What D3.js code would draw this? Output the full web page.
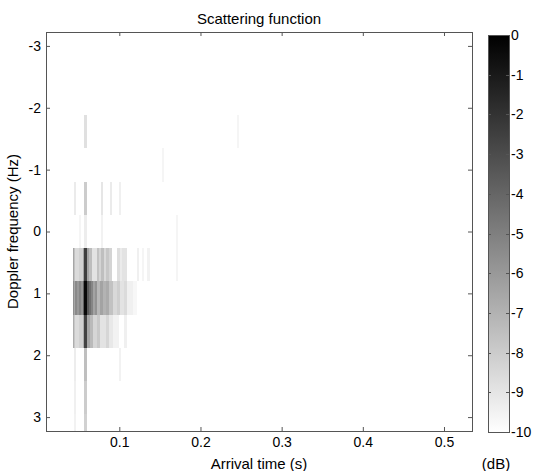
<!DOCTYPE html>
<html>
<head>
<meta charset="utf-8">
<script src="https://cdn.jsdelivr.net/npm/d3@7"></script>
<style>
  body { margin: 0; background: #fff; }
  text { font-family: "Liberation Sans", Arial, Helvetica, sans-serif; fill: #000; }
</style>
</head>
<body>
<div id="chart"></div>
<script>
// axis ranges and ticks
var timeLimits = [0.0097, 0.5345];
var dopplerLimits = [-3.225, 3.225];
var xTicks = [0.1, 0.2, 0.3, 0.4, 0.5];
var yTicks = [-3, -2, -1, 0, 1, 2, 3];
var levelTicks = [0, -1, -2, -3, -4, -5, -6, -7, -8, -9, -10];
var levelRange = [-10, 0];

// doppler bin centres (Hz)
var dopplerBins = [-3.225, -2.6875, -2.15, -1.6125, -1.075, -0.5375, 0,
                   0.5375, 1.075, 1.6125, 2.15, 2.6875, 3.225];
var binHeight = 0.5375;

// visible cells: [doppler Hz, start s, end s, level dB], the rest is below -10 dB
var cells = [
  // 1.075 Hz
  [1.075, 0.0430, 0.0442, -5.6], [1.075, 0.0442, 0.0454, -6.6], [1.075, 0.0454, 0.0479, -5.4],
  [1.075, 0.0479, 0.0504, -6.0], [1.075, 0.0504, 0.0528, -5.3], [1.075, 0.0528, 0.0553, -5.9],
  [1.075, 0.0553, 0.0571, -3.8], [1.075, 0.0571, 0.0602, -0.3], [1.075, 0.0602, 0.0627, -3.4],
  [1.075, 0.0627, 0.0651, -4.4], [1.075, 0.0651, 0.0676, -5.2], [1.075, 0.0676, 0.0700, -6.4],
  [1.075, 0.0700, 0.0725, -5.8], [1.075, 0.0725, 0.0762, -7.2], [1.075, 0.0762, 0.0799, -6.4],
  [1.075, 0.0799, 0.0836, -7.0], [1.075, 0.0836, 0.0873, -6.7], [1.075, 0.0873, 0.0922, -7.6],
  [1.075, 0.0922, 0.0971, -8.5], [1.075, 0.0971, 0.1009, -8.1], [1.075, 0.1009, 0.1058, -8.9],
  [1.075, 0.1058, 0.1095, -8.6], [1.075, 0.1095, 0.1169, -9.4], [1.075, 0.1169, 0.1218, -9.7],
  // 0.5375 Hz
  [0.5375, 0.0430, 0.0442, -6.5], [0.5375, 0.0442, 0.0460, -7.6], [0.5375, 0.0460, 0.0504, -8.6],
  [0.5375, 0.0504, 0.0553, -8.2], [0.5375, 0.0553, 0.0571, -6.4], [0.5375, 0.0571, 0.0602, -2.4],
  [0.5375, 0.0602, 0.0627, -6.4], [0.5375, 0.0627, 0.0664, -7.4], [0.5375, 0.0664, 0.0725, -8.9],
  [0.5375, 0.0725, 0.0750, -7.6], [0.5375, 0.0750, 0.0775, -8.3], [0.5375, 0.0775, 0.0810, -7.5],
  [0.5375, 0.0810, 0.0836, -8.5], [0.5375, 0.0836, 0.0873, -7.8], [0.5375, 0.0873, 0.0910, -8.3],
  [0.5375, 0.0972, 0.1009, -8.7], [0.5375, 0.1009, 0.1034, -9.2], [0.5375, 0.1034, 0.1095, -8.9],
  [0.5375, 0.1218, 0.1243, -9.4], [0.5375, 0.1280, 0.1304, -9.6], [0.5375, 0.1341, 0.1378, -9.5],
  [0.5375, 0.1699, 0.1723, -9.6],
  // 1.6125 Hz
  [1.6125, 0.0430, 0.0442, -6.8], [1.6125, 0.0442, 0.0454, -7.8], [1.6125, 0.0454, 0.0504, -8.6],
  [1.6125, 0.0504, 0.0553, -8.2], [1.6125, 0.0553, 0.0571, -6.8], [1.6125, 0.0571, 0.0602, -2.6],
  [1.6125, 0.0602, 0.0639, -6.5], [1.6125, 0.0639, 0.0676, -7.3], [1.6125, 0.0676, 0.0725, -8.4],
  [1.6125, 0.0725, 0.0762, -7.9], [1.6125, 0.0762, 0.0836, -8.9], [1.6125, 0.0836, 0.0873, -8.4],
  [1.6125, 0.0873, 0.0922, -9.1], [1.6125, 0.0922, 0.0996, -9.5], [1.6125, 0.1058, 0.1095, -9.4],
  // 2.15 .. 3.225 Hz
  [2.15, 0.0442, 0.0467, -9.3], [2.15, 0.0571, 0.0602, -7.5], [2.15, 0.0996, 0.1021, -9.5],
  [2.6875, 0.0442, 0.0467, -9.4], [2.6875, 0.0571, 0.0602, -8.0],
  [3.225, 0.0442, 0.0467, -9.5], [3.225, 0.0571, 0.0602, -8.2],
  // 0 Hz
  [0, 0.0504, 0.0528, -9.6], [0, 0.0571, 0.0596, -9.3], [0, 0.0775, 0.0799, -9.5], [0, 0.1699, 0.1723, -9.6],
  // -0.5375 Hz
  [-0.5375, 0.0442, 0.0467, -9.2], [-0.5375, 0.0571, 0.0602, -8.0], [-0.5375, 0.0775, 0.0799, -9.0],
  [-0.5375, 0.0885, 0.0910, -9.2], [-0.5375, 0.0996, 0.1021, -9.4],
  // -1.075 / -1.6125 Hz
  [-1.075, 0.1526, 0.1551, -9.6],
  [-1.6125, 0.0571, 0.0596, -8.8], [-1.6125, 0.2450, 0.2475, -9.6]
];

var W = 534, H = 471;
var plot = { left: 46, right: 472, top: 32, bottom: 431 };
var bar = { left: 488, right: 509, top: 35, bottom: 432 };
var lineColor = "#555";

var svg = d3.select("#chart").append("svg")
  .attr("width", W).attr("height", H);

var x = d3.scaleLinear().domain(timeLimits).range([plot.left, plot.right]);
var y = d3.scaleLinear().domain(dopplerLimits).range([plot.top, plot.bottom]);
var gray = d3.scaleLinear().domain(levelRange).range(["#ffffff", "#000000"]).clamp(true);

// clip for the image
svg.append("clipPath").attr("id", "plotclip")
  .append("rect")
  .attr("x", plot.left).attr("y", plot.top)
  .attr("width", plot.right - plot.left).attr("height", plot.bottom - plot.top);

var img = svg.append("g").attr("clip-path", "url(#plotclip)");
img.selectAll("rect")
  .data(cells)
  .enter().append("rect")
  .attr("x", function(d) { return x(d[1]); })
  .attr("width", function(d) { return x(d[2]) - x(d[1]); })
  .attr("y", function(d) { return y(d[0] - binHeight / 2); })
  .attr("height", function(d) { return y(d[0] + binHeight / 2) - y(d[0] - binHeight / 2); })
  .attr("fill", function(d) { return gray(d[3]); })
  .attr("shape-rendering", "crispEdges");

// axes (ticks inside, box on)
var tickLen = 4;
var axB = svg.append("g").attr("transform", "translate(0," + plot.bottom + ")")
  .call(d3.axisBottom(x).tickValues(xTicks).tickSize(-tickLen).tickPadding(6).tickFormat(d3.format("")));
var axT = svg.append("g").attr("transform", "translate(0," + plot.top + ")")
  .call(d3.axisTop(x).tickValues(xTicks).tickSize(-tickLen).tickFormat(""));
var axL = svg.append("g").attr("transform", "translate(" + plot.left + ",0)")
  .call(d3.axisLeft(y).tickValues(yTicks).tickSize(-tickLen).tickPadding(5).tickFormat(d3.format("")));
var axR = svg.append("g").attr("transform", "translate(" + plot.right + ",0)")
  .call(d3.axisRight(y).tickValues(yTicks).tickSize(-tickLen).tickFormat(""));

[axB, axT, axL, axR].forEach(function(a) {
  a.select(".domain").remove();
  a.selectAll(".tick line").attr("stroke", lineColor);
  a.selectAll(".tick text").style("font-size", "14px").attr("fill", "#000")
    .style("font-family", "'Liberation Sans', Arial, sans-serif");
});
axL.selectAll(".tick text").text(function(d) { return d < 0 ? "-" + Math.abs(d) : d; });

svg.append("rect")
  .attr("x", plot.left + 0.5).attr("y", plot.top + 0.5)
  .attr("width", plot.right - plot.left).attr("height", plot.bottom - plot.top)
  .attr("fill", "none").attr("stroke", lineColor);

// labels
svg.append("text").attr("x", (plot.left + plot.right) / 2).attr("y", 24)
  .attr("text-anchor", "middle").style("font-size", "15px").text("Scattering function");
svg.append("text").attr("x", (plot.left + plot.right) / 2).attr("y", 469)
  .attr("text-anchor", "middle").style("font-size", "15px").text("Arrival time (s)");
svg.append("text")
  .attr("transform", "translate(18," + (plot.top + plot.bottom) / 2 + ") rotate(-90)")
  .attr("text-anchor", "middle").style("font-size", "15px").text("Doppler frequency (Hz)");

// colorbar
var c = d3.scaleLinear().domain([0, -10]).range([bar.top, bar.bottom]);
var grad = svg.append("defs").append("linearGradient").attr("id", "cbar")
  .attr("x1", 0).attr("y1", 0).attr("x2", 0).attr("y2", 1);
grad.append("stop").attr("offset", "0%").attr("stop-color", gray(0));
grad.append("stop").attr("offset", "100%").attr("stop-color", gray(-10));

svg.append("rect")
  .attr("x", bar.left + 0.5).attr("y", bar.top + 0.5)
  .attr("width", bar.right - bar.left).attr("height", bar.bottom - bar.top)
  .attr("fill", "url(#cbar)").attr("stroke", lineColor);

var cbTicks = svg.append("g").selectAll("g")
  .data(levelTicks).enter().append("g")
  .attr("transform", function(d) { return "translate(0," + (Math.round(c(d)) + 0.5) + ")"; });
cbTicks.append("line").attr("x1", bar.left).attr("x2", bar.left + 3).attr("stroke", lineColor);
cbTicks.append("line").attr("x1", bar.right - 3).attr("x2", bar.right).attr("stroke", lineColor);
cbTicks.append("text").attr("x", bar.right + 2).attr("dy", "0.35em")
  .style("font-size", "14px").text(function(d) { return d; });

svg.append("text").attr("x", 496).attr("y", 469)
  .attr("text-anchor", "middle").style("font-size", "15px").text("(dB)");
</script>
</body>
</html>
